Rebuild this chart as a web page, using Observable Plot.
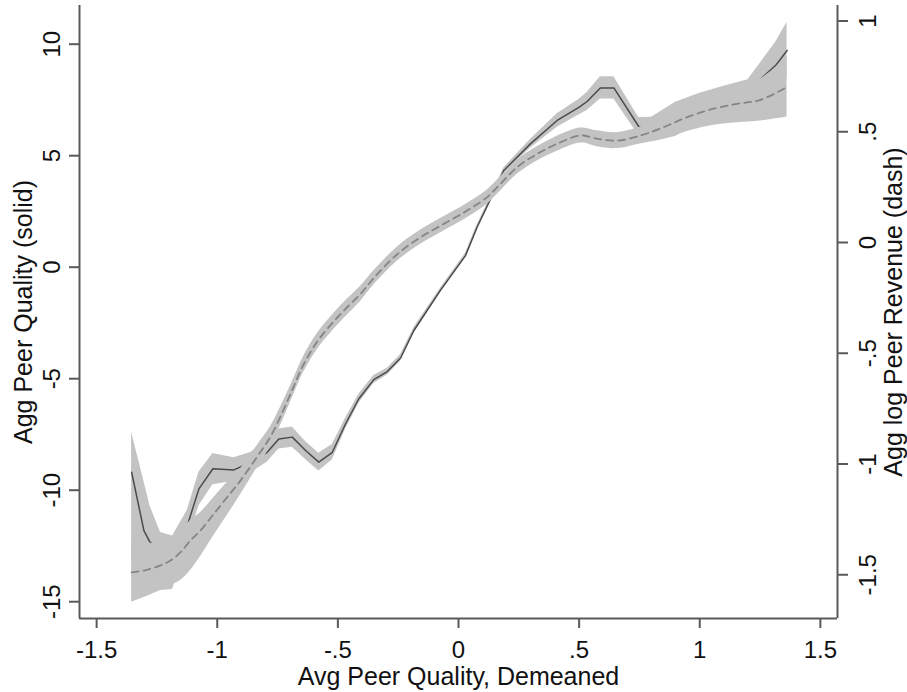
<!DOCTYPE html>
<html>
<head>
<meta charset="utf-8">
<script src="https://cdn.jsdelivr.net/npm/d3@7"></script>
<script src="https://cdn.jsdelivr.net/npm/@observablehq/plot@0.6"></script>
<style>
  html, body { margin: 0; padding: 0; background: #fff; }
  #chart svg { display: block; }
</style>
</head>
<body>
<div id="chart"></div>
<script>
// ---------- tick values ----------
const xTicks = [-1.5, -1, -0.5, 0, 0.5, 1, 1.5];
const leftTicks = [-15, -10, -5, 0, 5, 10];
const rightTicks = [-1.5, -1, -0.5, 0, 0.5, 1];

// ---------- axis titles ----------
const xTitle = "Avg Peer Quality, Demeaned";
const leftTitle = "Agg Peer Quality (solid)";
const rightTitle = "Agg log Peer Revenue (dash)";

// ---------- scale domains ----------
const xDomain = [-1.571, 1.571];
const leftDomain = [-15.753, 11.735];
const rightDomain = [-1.6975, 1.07];

// ---------- solid series: Agg Peer Quality (left axis) ----------
const xSolid = [-1.355,-1.304,-1.279,-1.235,-1.185,-1.124,-1.076,-1.018,-0.931,-0.862,-0.793,-0.745,-0.689,-0.634,-0.579,-0.523,-0.468,-0.413,-0.351,-0.295,-0.240,-0.185,-0.075,0.029,0.077,0.140,0.188,0.298,0.409,0.499,0.533,0.588,0.644,0.747,0.80,0.90,1.0,1.10,1.20,1.314,1.362];
const solidY = [-9.19,-11.81,-12.33,-12.75,-12.61,-11.58,-9.94,-9.04,-9.09,-8.76,-8.30,-7.70,-7.62,-8.22,-8.74,-8.30,-7.02,-5.90,-5.04,-4.68,-4.07,-2.84,-1.04,0.52,1.79,3.22,4.34,5.53,6.58,7.17,7.43,8.04,8.04,6.31,6.12,6.58,7.12,7.47,7.92,9.04,9.72];
const solidLo = [-13.0,-14.0,-14.5,-14.5,-14.45,-12.3,-10.7,-9.75,-9.6,-9.21,-8.75,-8.15,-8.07,-8.62,-9.14,-8.65,-7.27,-6.10,-5.22,-4.83,-4.22,-2.96,-1.14,0.42,1.69,3.12,4.22,5.33,6.28,6.82,7.03,7.54,7.54,5.91,5.62,5.86,6.54,6.93,7.47,8.0,8.47];
const solidHi = [-7.4,-9.6,-10.7,-11.9,-12.05,-10.9,-9.2,-8.35,-8.55,-8.31,-7.85,-7.25,-7.17,-7.82,-8.34,-7.95,-6.77,-5.70,-4.86,-4.53,-3.92,-2.72,-0.94,0.62,1.89,3.32,4.46,5.73,6.88,7.52,7.83,8.54,8.54,6.71,6.72,7.40,7.80,8.11,8.40,10.08,10.97];

// ---------- dashed series: Agg log Peer Revenue (right axis) ----------
const xDash = [-1.355,-1.304,-1.235,-1.194,-1.152,-1.111,-1.069,-1.014,-0.959,-0.903,-0.834,-0.779,-0.724,-0.683,-0.641,-0.586,-0.530,-0.475,-0.406,-0.351,-0.254,-0.157,-0.061,0.036,0.119,0.174,0.243,0.326,0.409,0.492,0.519,0.575,0.658,0.754,0.851,0.948,1.058,1.155,1.252,1.362];
const dashY = [-1.489,-1.481,-1.458,-1.436,-1.398,-1.345,-1.300,-1.225,-1.150,-1.074,-0.966,-0.876,-0.752,-0.650,-0.548,-0.448,-0.372,-0.307,-0.232,-0.160,-0.053,0.024,0.084,0.144,0.205,0.265,0.340,0.400,0.446,0.481,0.483,0.468,0.460,0.483,0.521,0.566,0.604,0.626,0.644,0.702];
const dashLo = [-1.624,-1.603,-1.571,-1.548,-1.526,-1.481,-1.418,-1.323,-1.233,-1.138,-1.016,-0.921,-0.792,-0.686,-0.584,-0.484,-0.408,-0.343,-0.266,-0.192,-0.085,-0.008,0.052,0.112,0.173,0.233,0.308,0.368,0.412,0.447,0.449,0.432,0.424,0.445,0.466,0.501,0.529,0.541,0.549,0.567];
const dashHi = [-1.353,-1.354,-1.359,-1.341,-1.300,-1.255,-1.219,-1.151,-1.084,-1.020,-0.916,-0.831,-0.712,-0.614,-0.512,-0.412,-0.336,-0.271,-0.198,-0.128,-0.021,0.056,0.116,0.176,0.237,0.297,0.372,0.432,0.480,0.515,0.517,0.504,0.496,0.521,0.576,0.631,0.679,0.711,0.739,0.837];

// ---------- helpers ----------
const kR = (leftDomain[1] - leftDomain[0]) / (rightDomain[1] - rightDomain[0]);
const toLeft = r => leftDomain[0] + (r - rightDomain[0]) * kR;
const fromLeft = l => rightDomain[0] + (l - leftDomain[0]) / kR;
const fmt = v => {
  const s = String(Math.round(v * 100) / 100);
  return s.replace(/^(-?)0\./, "$1.");
};

const solid = xSolid.map((x, i) => ({x, y: solidY[i], lo: solidLo[i], hi: solidHi[i]}));
const dash = xDash.map((x, i) => ({x, y: toLeft(dashY[i]), lo: toLeft(dashLo[i]), hi: toLeft(dashHi[i])}));

const bandColor = "#c3c3c3";
const axisColor = "#5a5a5a";
const textColor = "#111111";
const font = "'Liberation Sans', Arial, Helvetica, sans-serif";

const chart = Plot.plot({
  width: 907,
  height: 692,
  marginLeft: 79,
  marginRight: 70,
  marginTop: 5,
  marginBottom: 74,
  style: {fontFamily: font, fontSize: "24px", background: "#fff", color: textColor, overflow: "visible"},
  x: {domain: xDomain},
  y: {domain: leftDomain},
  marks: [
    // solid CI band + line
    Plot.areaY(solid, {x: "x", y1: "lo", y2: "hi", fill: bandColor}),
    Plot.line(solid, {x: "x", y: "y", stroke: "#4a4a4a", strokeWidth: 1.5}),
    // dashed CI band + line (smooth local polynomial)
    Plot.areaY(dash, {x: "x", y1: "lo", y2: "hi", fill: bandColor, curve: "catmull-rom"}),
    Plot.line(dash, {x: "x", y: "y", stroke: "#858585", strokeWidth: 1.8, strokeDasharray: "7,5", curve: "catmull-rom"}),
    // axis lines
    Plot.ruleX([xDomain[0], xDomain[1]], {stroke: axisColor, strokeWidth: 2}),
    Plot.ruleY([leftDomain[0]], {stroke: axisColor, strokeWidth: 2}),
    // bottom axis
    Plot.axisX({ticks: xTicks, tickFormat: fmt, tickSize: 10, tickPadding: 12,
      stroke: axisColor, strokeWidth: 2, fill: textColor, fontSize: 24, label: null}),
    // left axis
    Plot.axisY({ticks: leftTicks, anchor: "left", tickFormat: fmt, tickSize: 10, tickPadding: 10,
      tickRotate: -90, lineAnchor: "bottom", textAnchor: "middle",
      stroke: axisColor, strokeWidth: 2, fill: textColor, fontSize: 24, label: null}),
    // right axis (log revenue), mapped onto the left scale
    Plot.axisY(rightTicks.map(toLeft), {anchor: "right",
      tickFormat: d => fmt(Math.round(fromLeft(d) * 2) / 2),
      tickSize: 10, tickPadding: 11, tickRotate: -90, lineAnchor: "top", textAnchor: "middle",
      stroke: axisColor, strokeWidth: 2, fill: textColor, fontSize: 24, label: null}),
    // titles
    Plot.text([xTitle], {text: d => d, frameAnchor: "bottom", dy: 66, lineAnchor: "bottom",
      textAnchor: "middle", fontSize: 25, fill: textColor}),
    Plot.text([leftTitle], {text: d => d, frameAnchor: "left", dx: -48, rotate: -90,
      lineAnchor: "bottom", textAnchor: "middle", fontSize: 25, fill: textColor}),
    Plot.text([rightTitle], {text: d => d, frameAnchor: "right", dx: 64, rotate: -90,
      lineAnchor: "bottom", textAnchor: "middle", fontSize: 25, fill: textColor})
  ]
});

document.getElementById("chart").appendChild(chart);
</script>
</body>
</html>
